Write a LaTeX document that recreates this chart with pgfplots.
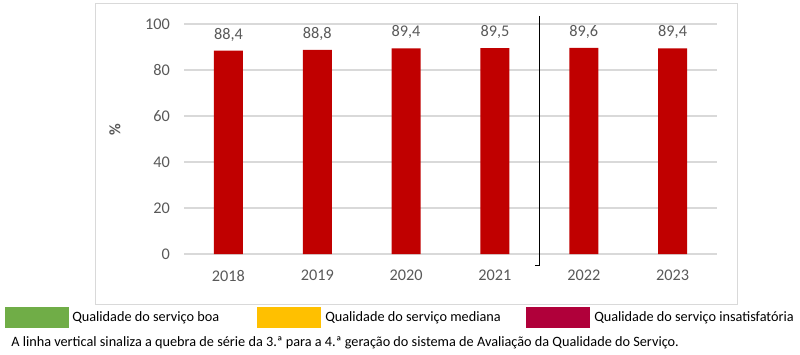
\documentclass[border=0pt]{standalone}
\usepackage{pgfplots}
\pgfplotsset{compat=1.18}
\usepackage{fontspec}
\setmainfont{Carlito}
\definecolor{barred}{HTML}{C00000}
\definecolor{txtgray}{HTML}{595959}
\definecolor{gridgray}{HTML}{D9D9D9}
\definecolor{lgreen}{HTML}{70AD47}
\definecolor{lyellow}{HTML}{FFC000}
\definecolor{lcrimson}{HTML}{B0003A}
\begin{document}
\begin{tikzpicture}[x=0.75pt,y=0.75pt]
\path[use as bounding box] (0,0) rectangle (800,354);
\draw[gridgray, line width=0.75pt] (95,50) rectangle (737,350);
\begin{axis}[
  at={(138pt,75pt)}, anchor=south west,
  scale only axis, width=399.75pt, height=172.5pt,
  xmin=-0.5, xmax=5.5, ymin=0, ymax=100,
  axis line style={draw=none},
  ytick={0,20,40,60,80,100},
  xtick={0,1,2,3,4,5},
  xticklabels={2018,2019,2020,2021,2022,2023},
  major tick length=0pt,
  ymajorgrids, grid style={gridgray, line width=0.8pt},
  tick label style={font=\fontsize{12.2}{14}\selectfont, text=txtgray},
  /pgf/number format/assume math mode=true,
  yticklabel style={xshift=-7pt},
  xticklabel style={yshift=-8.5pt},
  clip=false,
  nodes near coords,
  every node near coord/.append style={font=\fontsize{12.2}{14}\selectfont, text=txtgray, yshift=3.5pt},
  nodes near coords style={/pgf/number format/.cd, fixed, fixed zerofill, precision=1, use comma},
]
\addplot[ybar, bar width=21.75pt, fill=barred, draw=none] coordinates {
  (0,88.4) (1,88.8) (2,89.4) (3,89.5) (4,89.6) (5,89.4)
};
\draw[black, line width=0.9pt] (axis cs:3.5,103.5) -- (axis cs:3.5,-5) -- (axis cs:3.45,-5);
\end{axis}
\node[rotate=90, text=txtgray, font=\bfseries\fontsize{12}{14}\selectfont] at (115,224) {\%};
% legend
\fill[lgreen] (5,26) rectangle (69,47);
\node[anchor=west, inner sep=0pt, font=\fontsize{10.7}{12}\selectfont] at (72,36.5) {Qualidade do serviço boa};
\fill[lyellow] (257,26) rectangle (321,47);
\node[anchor=west, inner sep=0pt, font=\fontsize{10.7}{12}\selectfont] at (325,36.5) {Qualidade do serviço mediana};
\fill[lcrimson] (526,26) rectangle (590,47);
\node[anchor=west, inner sep=0pt, font=\fontsize{10.7}{12}\selectfont] at (594,36.5) {Qualidade do serviço insatisfatória};
\node[anchor=west, inner sep=0pt, font=\fontsize{10.7}{12}\selectfont] at (11,11) {A linha vertical sinaliza a quebra de série da 3.ª para a 4.ª geração do sistema de Avaliação da Qualidade do Serviço.};
\end{tikzpicture}
\end{document}
